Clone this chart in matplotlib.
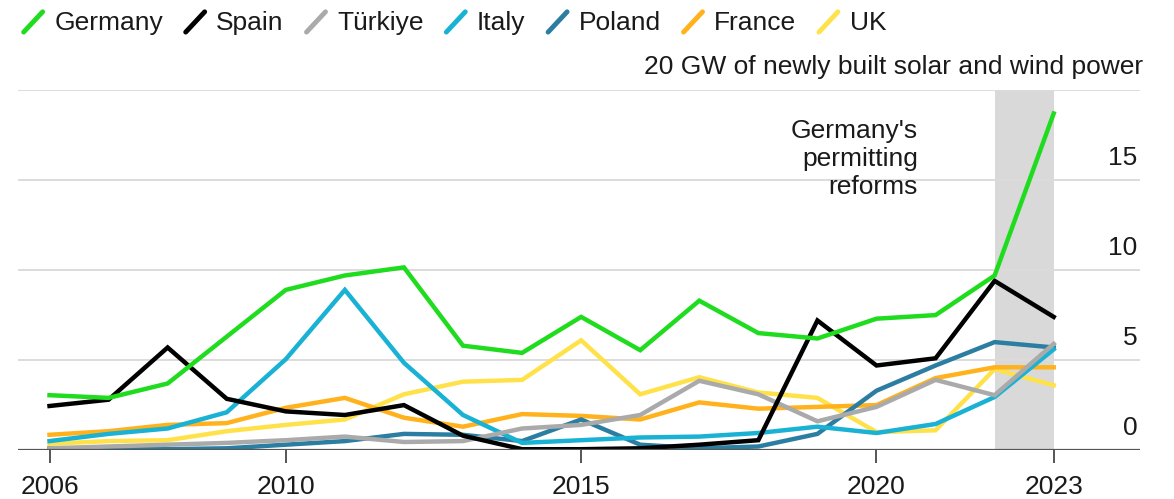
import matplotlib
matplotlib.use("Agg")
import matplotlib.pyplot as plt
from matplotlib.legend_handler import HandlerBase
from matplotlib.lines import Line2D

# ── Data (GW of newly built solar and wind power) ────────────────────────────
years = list(range(2006, 2024))

germany = [3.05, 2.9, 3.7, 6.3, 8.9, 9.7, 10.15, 5.8, 5.4, 7.4,
           5.55, 8.3, 6.5, 6.2, 7.3, 7.5, 9.7, 18.7]
spain = [2.45, 2.8, 5.7, 2.85, 2.15, 1.95, 2.5, 0.8, 0.05, 0.05,
         0.1, 0.3, 0.55, 7.2, 4.7, 5.1, 9.4, 7.4]
turkiye = [0.1, 0.2, 0.3, 0.4, 0.55, 0.75, 0.45, 0.5, 1.2, 1.4,
           1.95, 3.85, 3.1, 1.6, 2.4, 3.9, 3.05, 5.9]
italy = [0.5, 0.9, 1.2, 2.1, 5.05, 8.9, 4.85, 1.95, 0.4, 0.55,
         0.7, 0.75, 0.95, 1.3, 0.95, 1.45, 2.95, 5.6]
poland = [0.1, 0.05, 0.05, 0.1, 0.3, 0.5, 0.9, 0.85, 0.5, 1.7,
          0.3, 0.1, 0.2, 0.9, 3.3, 4.7, 6.0, 5.7]
france = [0.85, 1.05, 1.4, 1.5, 2.35, 2.9, 1.8, 1.3, 2.0, 1.9,
          1.7, 2.65, 2.3, 2.4, 2.5, 4.0, 4.6, 4.6]
uk = [0.35, 0.5, 0.55, 1.05, 1.4, 1.7, 3.1, 3.8, 3.9, 6.1,
      3.1, 4.05, 3.2, 2.9, 1.0, 1.1, 4.5, 3.6]

series_names = ["Germany", "Spain", "Türkiye", "Italy", "Poland", "France", "UK"]
series_values = [germany, spain, turkiye, italy, poland, france, uk]
series_colors = ["#1fdc1f", "#000000", "#aaaaaa", "#19b2d4",
                 "#2b7ea1", "#ffb21c", "#ffe24a"]

x_ticks = [2006, 2010, 2015, 2020, 2023]
y_ticks = [0, 5, 10, 15]
shade_span = (2022, 2023)

plt.rcParams["font.family"] = ["Liberation Sans", "DejaVu Sans"]
FS = 19
TEXT = "#1a1a1a"


class HandlerSlash(HandlerBase):
    """Draw the legend key as a short diagonal stroke."""
    def create_artists(self, legend, orig_handle, xdescent, ydescent,
                       width, height, fontsize, trans):
        x0, y0 = -xdescent, -ydescent
        line = Line2D([x0 + 0.05 * width, x0 + 0.95 * width],
                      [y0 - 0.1 * height, y0 + 1.0 * height],
                      color=orig_handle.get_color(), lw=3.5,
                      solid_capstyle="round", transform=trans)
        return [line]


fig = plt.figure(figsize=(11.74, 4.99), dpi=100)
ax = fig.add_axes([0.015, 0.098, 0.956, 0.7215])

ax.axvspan(*shade_span, color="#d9d9d9", zorder=0, lw=0)

for v in [5, 10, 15, 20]:
    ax.axhline(v, color="#dcdcdc", lw=1.4, zorder=0.5)
ax.axhline(0, color="#555555", lw=1.6, zorder=3)

handles = []
for name, vals, col in zip(reversed(series_names), reversed(series_values),
                           reversed(series_colors)):
    ln, = ax.plot(years, vals, color=col, lw=3.2, label=name,
                  solid_joinstyle="miter", zorder=2)
    handles.append(ln)
handles = handles[::-1]

ax.set_xlim(2005.46, 2024.46)
ax.set_ylim(0, 20)
for s in ax.spines.values():
    s.set_visible(False)

ax.set_xticks(x_ticks)
ax.set_xticklabels([str(t) for t in x_ticks], fontsize=FS, color=TEXT)
ax.tick_params(axis="x", length=9, width=1.4, color="#555555", pad=9)
ax.set_yticks([])

# y labels sit just above their gridlines on the right
for v in y_ticks:
    ax.annotate(str(v), xy=(1.0, v), xycoords=("axes fraction", "data"),
                xytext=(-2, 7), textcoords="offset points",
                ha="right", va="bottom", fontsize=FS, color=TEXT)
ax.annotate("20 GW of newly built solar and wind power", xy=(1.0, 20),
            xycoords=("axes fraction", "data"), xytext=(2, 8),
            textcoords="offset points", ha="right", va="bottom",
            fontsize=FS, color=TEXT)

ax.text(2020.7, 18.4, "Germany's\npermitting\nreforms", ha="right", va="top",
        fontsize=FS, color=TEXT, linespacing=1.22)

fig.legend(handles, series_names, handler_map={Line2D: HandlerSlash()},
           loc="upper left", bbox_to_anchor=(-0.001, 1.025), ncol=7,
           frameon=False, fontsize=FS, handlelength=0.8, handletextpad=0.4,
           columnspacing=0.82, labelcolor=TEXT)

fig.savefig("out.png", dpi=100)
